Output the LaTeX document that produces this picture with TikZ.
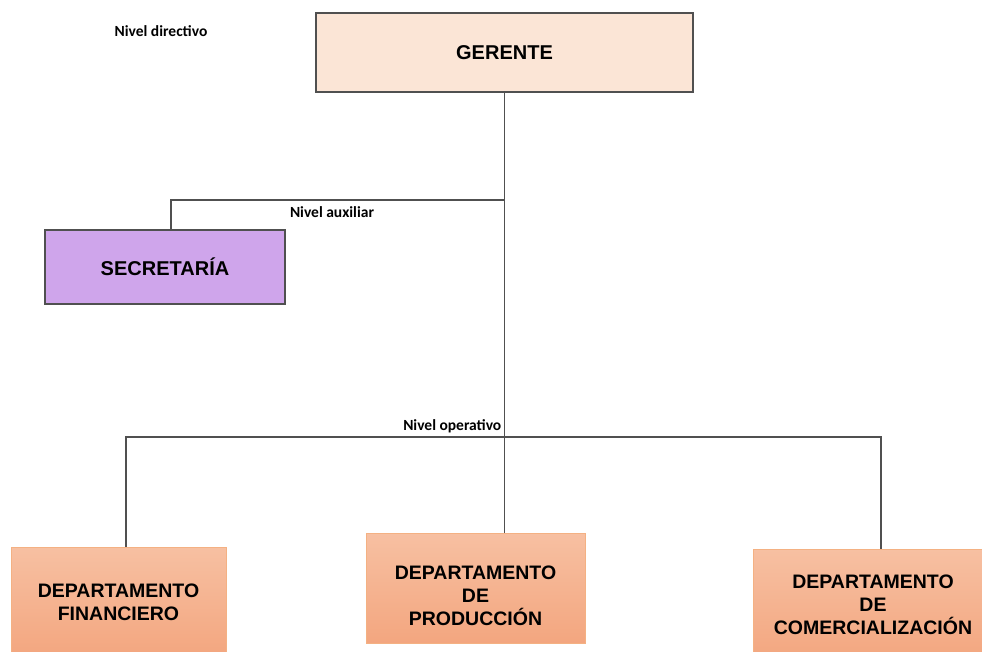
\documentclass[tikz,border=0pt]{standalone}
\usepackage{fontspec}
\setmainfont{Liberation Sans}
\newfontfamily\calibri{Carlito}
\definecolor{piel}{HTML}{FBE5D6}
\definecolor{lila}{HTML}{CFA5EB}
\definecolor{naranjaA}{HTML}{F7C0A2}
\definecolor{naranjaB}{HTML}{F3A67F}
\definecolor{bordeN}{HTML}{F4B183}
\definecolor{linea}{HTML}{505050}
\tikzset{
  caja/.style={draw=linea, line width=1.3pt, align=center,
    font=\fontsize{20}{23}\selectfont\bfseries},
  depto/.style={draw=bordeN, line width=0.8pt, top color=naranjaA,
    bottom color=naranjaB, align=center,
    font=\fontsize{19.5}{23}\selectfont\bfseries},
  nivel/.style={font=\calibri\fontsize{15.5}{17}\selectfont\bfseries, inner sep=1pt},
  enlace/.style={draw=linea, line width=1.5pt}
}
\begin{document}
\begin{tikzpicture}[x=1pt, y=-1pt]
    \useasboundingbox (0,0) rectangle (982,652);
    \clip (0,0) rectangle (982,652);

    % Nivel directivo
    \node[nivel] (directivo) at (161,31) {Nivel directivo};
    \node[caja, fill=piel, minimum width=377pt, minimum height=79pt] (gerente) at (504.5,52.5) {GERENTE};

    % Nivel auxiliar
    \node[caja, fill=lila, minimum width=240pt, minimum height=74pt] (secretaria) at (165,267) {SECRETAR\'IA};

    % Nivel operativo
    \node[depto, minimum width=215pt, minimum height=110pt] (financiero) at (118.5,602) {DEPARTAMENTO\\FINANCIERO};
    \node[depto, minimum width=219pt, minimum height=110pt,
      label={[align=center, font=\fontsize{19.5}{23}\selectfont\bfseries, yshift=-7.5pt]center:DEPARTAMENTO\\DE\\PRODUCCI\'ON}]
      (produccion) at (475.5,588) {};
    \node[depto, minimum width=240pt, minimum height=112pt] (comercial) at (873,605) {DEPARTAMENTO\\DE\\COMERCIALIZACI\'ON};

    % Puntos de las lineas
    \coordinate (aux) at (gerente.south |- 0,200);
    \coordinate (auxIzq) at (171,200);
    \coordinate (op) at (gerente.south |- 0,437);
    \coordinate (opIzq) at (126,437);
    \coordinate (opDer) at (881,437);

    % Lineas
    \draw[enlace] (gerente.south) -- (gerente.south |- produccion.north);
    \draw[enlace] (aux) -- (auxIzq) -- (auxIzq |- secretaria.north);
    \draw[enlace] (opIzq |- financiero.north) -- (opIzq) -- (opDer) -- (opDer |- comercial.north);

    \node[nivel] (auxiliar) at (332,212) {Nivel auxiliar};
    \node[nivel, anchor=south east] (operativo) at ([xshift=-2pt,yshift=3pt]op) {Nivel operativo};
\end{tikzpicture}
\end{document}
